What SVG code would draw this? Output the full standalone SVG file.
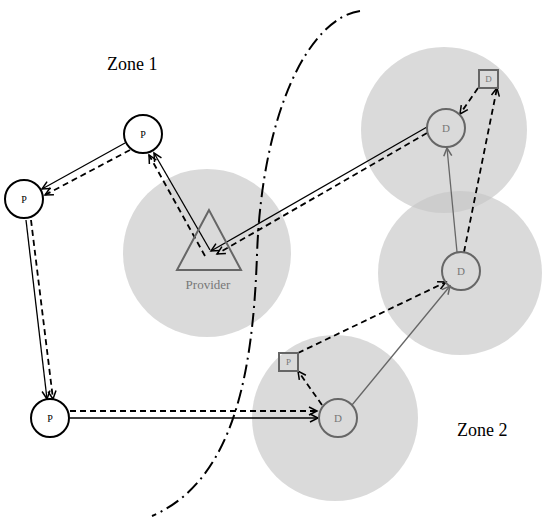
<svg xmlns="http://www.w3.org/2000/svg" width="550" height="526" viewBox="0 0 550 526">
<style>
.zone{fill:#c6c6c6;fill-opacity:0.65;stroke:none}
.pn{fill:#fff;stroke:#000;stroke-width:2}
.dn{fill:none;stroke:#666;stroke-width:2}
.lbl{font-family:"Liberation Serif",serif;text-anchor:middle}
.pl{font-size:10px;fill:#000}
.dl{font-size:11px;fill:#777}
.sl{font-size:9px;fill:#777}
.zt{font-family:"Liberation Serif",serif;font-size:18px;fill:#000}
.s{fill:none;stroke:#000;stroke-width:1.3;marker-end:url(#ab)}
.d{fill:none;stroke:#000;stroke-width:1.8;stroke-dasharray:6 4;marker-end:url(#ab)}
.g{fill:none;stroke:#666;stroke-width:1.3;marker-end:url(#ag)}
</style>
<defs>
<marker id="ab" markerUnits="userSpaceOnUse" markerWidth="12" markerHeight="12" refX="9" refY="5" orient="auto" viewBox="0 0 12 10">
<path d="M1,1 L9,5 L1,9" fill="none" stroke="#000" stroke-width="1.5"/>
</marker>
<marker id="ag" markerUnits="userSpaceOnUse" markerWidth="12" markerHeight="12" refX="9" refY="5" orient="auto" viewBox="0 0 12 10">
<path d="M1,1 L9,5 L1,9" fill="none" stroke="#666" stroke-width="1.5"/>
</marker>
</defs>
<rect width="550" height="526" fill="#fff"/>
<g id="zones">
<circle class="zone" cx="444" cy="130" r="83"/>
<circle class="zone" cx="460" cy="273" r="82"/>
<circle class="zone" cx="335" cy="418" r="83"/>
<circle class="zone" cx="207" cy="253" r="84"/>
</g>
<path id="boundary" d="M360,11 C310,18 262,110 257,255 C253,370 235,480 152,516" fill="none" stroke="#000" stroke-width="2" stroke-dasharray="14 5 2 5"/>
<text class="zt" x="107" y="70">Zone 1</text>
<text class="zt" x="457" y="436">Zone 2</text>
<g id="connectors">
<path class="s" d="M125,143 L42,189"/>
<path class="d" d="M130,150 L45,195"/>
<path class="s" d="M210,250 L154,153"/>
<path class="d" d="M205,256 L149,155"/>
<path class="s" d="M427,127 L211,251"/>
<path class="d" d="M427,133 L217,254"/>
<path class="s" d="M26,220 L47,399"/>
<path class="d" d="M31,220 L53,399"/>
<path class="d" d="M70,411 L317,411"/>
<path class="s" d="M70,418 L318,418"/>
<path class="d" d="M322,405 L298,371"/>
<path class="d" d="M298,353 L446,282"/>
<path class="g" d="M352,405 L450,286"/>
<path class="g" d="M457,252 L447,148"/>
<path class="d" d="M464,252 L497,88"/>
<path class="d" d="M478,88 L460,114"/>
</g>
<g id="P1"><circle class="pn" cx="143" cy="134" r="19"/><text class="lbl pl" x="143" y="138">P</text></g>
<g id="P2"><circle class="pn" cx="24" cy="199" r="19"/><text class="lbl pl" x="24" y="203">P</text></g>
<g id="P3"><circle class="pn" cx="50" cy="418" r="19"/><text class="lbl pl" x="50" y="422">P</text></g>
<g id="Provider"><path d="M209,210 L177,270 L241,270 Z" fill="none" stroke="#666" stroke-width="2"/><text class="lbl" x="208" y="289" style="font-size:13px;fill:#777">Provider</text></g>
<g id="Dtop"><circle class="dn" cx="446" cy="128" r="19"/><text class="lbl dl" x="446" y="132">D</text></g>
<g id="Dmid"><circle class="dn" cx="461" cy="271" r="19"/><text class="lbl dl" x="461" y="275">D</text></g>
<g id="Dbot"><circle class="dn" cx="338" cy="418" r="19"/><text class="lbl dl" x="338" y="422">D</text></g>
<g id="SqD"><rect x="479" y="70" width="19" height="18" fill="none" stroke="#666" stroke-width="2"/><text class="lbl sl" x="488.5" y="82">D</text></g>
<g id="SqP"><rect x="279" y="353" width="19" height="18" fill="none" stroke="#666" stroke-width="2"/><text class="lbl sl" x="288.5" y="365">P</text></g>
</svg>
